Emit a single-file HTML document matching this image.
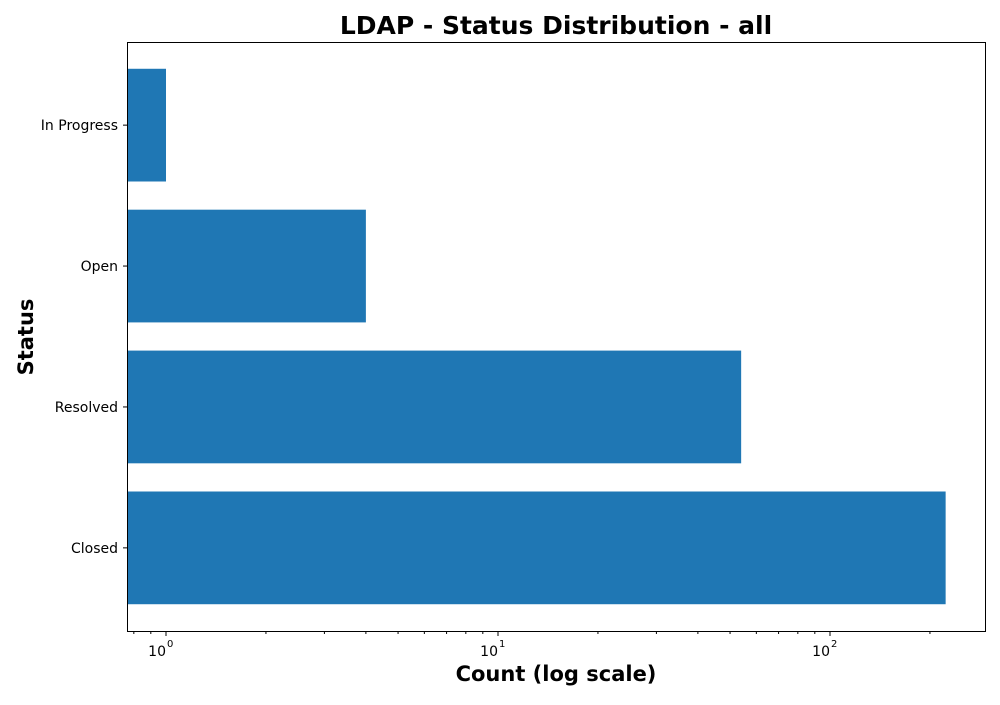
<!DOCTYPE html>
<html><head><meta charset="utf-8"><style>
body{margin:0;background:#fff;}
svg text{font-family:"DejaVu Sans","Liberation Sans",sans-serif;}
</style></head><body>
<svg width="1000" height="700" id="c">
<text x="556" y="34" text-anchor="middle" font-size="25" font-weight="bold">LDAP - Status Distribution - all</text>
<text x="556" y="681" text-anchor="middle" font-size="21" font-weight="bold">Count (log scale)</text>
<text transform="translate(33,337) rotate(-90)" text-anchor="middle" font-size="21" font-weight="bold">Status</text>
<g id="bars"></g><g id="ticks"></g>
<rect x="127.5" y="42.5" width="858" height="589" fill="none" stroke="#000" stroke-width="1"/>
</svg>
<script>
const categories=["In Progress","Open","Resolved","Closed"];
const counts=[1,4,54,223];
const tickDecades=[0,1,2];
const L=127,R=985,T=42,B=631;
const xmin=Math.log10(0.763),xmax=Math.log10(293);
function x(v){return L+(Math.log10(v)-xmin)/(xmax-xmin)*(R-L);}
const ymin=-0.59,ymax=categories.length-1+0.59;
const step=(B-T)/(ymax-ymin);
function yc(i){return T+(i-ymin)*step;}
const ns="http://www.w3.org/2000/svg";
const bars=document.getElementById('bars'),ticks=document.getElementById('ticks');
function mk(tag,a,p){const e=document.createElementNS(ns,tag);for(const k in a)e.setAttribute(k,a[k]);p.appendChild(e);return e;}
categories.forEach((c,i)=>{
 const h=step*0.8;
 const r=mk('rect',{x:L,y:yc(i)-h/2,width:x(counts[i])-L,height:h,fill:'#1f77b4'},bars);
 
 
 const tl=mk('line',{x1:L-4,x2:L,y1:yc(i),y2:yc(i),stroke:'#000'},ticks);
 
 
 const t=mk('text',{x:L-9,y:yc(i)+5,'text-anchor':'end','font-size':14},ticks);
 t.textContent=c;
 
 
});
tickDecades.forEach(d=>{
 const v=Math.pow(10,d),px=x(v);
 const l=mk('line',{x1:px,x2:px,y1:B,y2:B+5,stroke:'#000'},ticks);
 
 
 const t=mk('text',{x:px,y:B+25,'text-anchor':'end','font-size':14},ticks);
 t.textContent='10';
 
 
 const s=mk('text',{x:px+1,y:B+16,'font-size':10},ticks);
 s.textContent=String(d);
 
 
});
for(let d=-1;d<=2;d++)for(let k=2;k<=9;k++){
 const v=k*Math.pow(10,d);const px=x(v);
 if(px<L||px>R)continue;
 const l=mk('line',{x1:px,x2:px,y1:B,y2:B+3,stroke:'#000'},ticks);
 
 
}
</script>
</body></html>
